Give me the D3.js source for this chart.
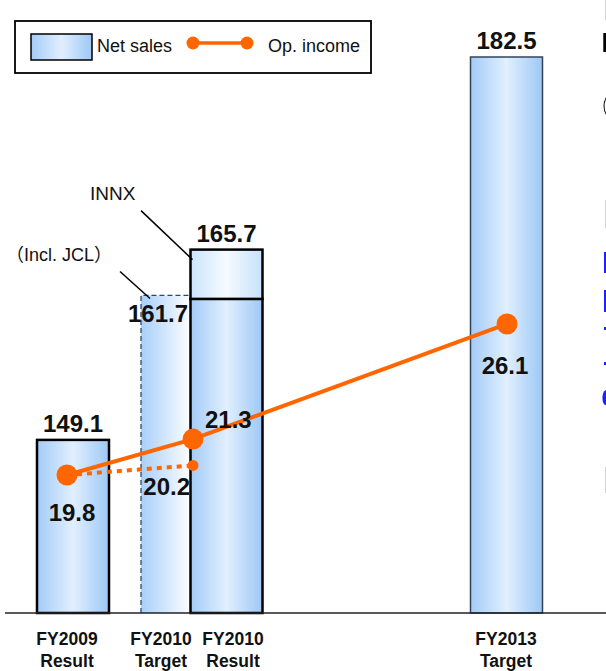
<!DOCTYPE html>
<html>
<head>
<meta charset="utf-8">
<script src="https://cdn.jsdelivr.net/npm/d3@7"></script>
<style>
  html, body { margin: 0; padding: 0; background: #fff; }
  svg { display: block; font-family: "Liberation Sans", Arial, "Noto Sans CJK JP", sans-serif; }
</style>
</head>
<body>
<svg id="chart" width="606" height="671"></svg>
<script>
// ---- data ----
const categories = ["FY2009 Result", "FY2010 Target", "FY2010 Result", "FY2013 Target"];
const categoryLines = [["FY2009", "Result"], ["FY2010", "Target"], ["FY2010", "Result"], ["FY2013", "Target"]];
const netSales = [149.1, 161.7, 165.7, 182.5];          // billion yen
const netSalesExclINNX = [null, null, 161.4, null];     // FY2010 result without INNX
const opIncome = [19.8, 20.2, 21.3, 26.1];              // billion yen
const solidPath = ["FY2009 Result", "FY2010 Result", "FY2013 Target"];
const dottedPath = ["FY2009 Result", "FY2010 Target"];
const legendLabels = ["Net sales", "Op. income"];

// ---- setup ----
const svg = d3.select("#chart");
svg.append("rect").attr("width", 606).attr("height", 671).attr("fill", "#fff");
const defs = svg.append("defs");
function hGrad(id, stops) {
  const g = defs.append("linearGradient").attr("id", id)
    .attr("x1", "0%").attr("x2", "100%").attr("y1", "0%").attr("y2", "0%");
  stops.forEach(([o, c]) => g.append("stop").attr("offset", o).attr("stop-color", c));
}
hGrad("barFill", [[0, "#a3cbf8"], [0.5, "#e1effe"], [1, "#9dc8f6"]]);
hGrad("innxFill", [[0, "#cbe5fc"], [0.5, "#f5faff"], [1, "#c6e2fb"]]);
hGrad("targetFill", [[0, "#a7cffa"], [0.7, "#ffffff"], [1, "#ffffff"]]);

const baseY = 613;
const barW = 72;
const orange = "#ff6600";

// sales axis (not zero-based) and operating income axis
const y = d3.scaleLinear().domain([134, 182.5]).range([baseY, 57]);
const yInc = d3.scaleLinear().domain([15, 30]).range([590.1, 230.5]);
// horizontal slots
const xBar = d3.scaleOrdinal().domain(categories).range([73, 177, 226.5, 506.5]);
const xInc = d3.scaleOrdinal().domain(categories).range([67, 193, 193, 507]);
const xLab = d3.scaleOrdinal().domain(categories).range([67, 161, 233, 506]);

// ---- bars ----
const bars = svg.append("g");
const order = [1, 0, 2, 3]; // target-with-JCL bar sits behind the result bar
order.forEach(i => {
  const c = categories[i];
  const x0 = xBar(c) - barW / 2;
  const top = y(netSales[i]);
  if (i === 1) {
    bars.append("rect").attr("x", x0).attr("y", top).attr("width", barW)
      .attr("height", baseY - top).attr("fill", "url(#targetFill)");
    bars.append("path")
      .attr("d", `M${x0},${baseY} V${top} H${x0 + barW}`)
      .attr("fill", "none").attr("stroke", "#2b4a70").attr("stroke-width", 1.3)
      .attr("stroke-dasharray", "5,3");
  } else if (netSalesExclINNX[i] != null) {
    const mid = y(netSalesExclINNX[i]);
    bars.append("rect").attr("x", x0).attr("y", mid).attr("width", barW)
      .attr("height", baseY - mid).attr("fill", "url(#barFill)")
      .attr("stroke", "#000").attr("stroke-width", 2.5);
    bars.append("rect").attr("x", x0).attr("y", top).attr("width", barW)
      .attr("height", mid - top).attr("fill", "url(#innxFill)")
      .attr("stroke", "#000").attr("stroke-width", 2.5);
  } else {
    const thin = i === 3;
    bars.append("rect").attr("x", x0).attr("y", top).attr("width", barW)
      .attr("height", baseY - top).attr("fill", "url(#barFill)")
      .attr("stroke", thin ? "#34435a" : "#000").attr("stroke-width", thin ? 1.5 : 2.5);
  }
});

// baseline
svg.append("line").attr("x1", 5).attr("x2", 606).attr("y1", baseY).attr("y2", baseY)
  .attr("stroke", "#222").attr("stroke-width", 1.5);

// ---- annotations ----
{
  const c = categories[2];
  const x0 = xBar(c) - barW / 2;
  const top = y(netSales[2]);
  svg.append("text").attr("x", 90).attr("y", top - 50).attr("font-size", 19)
    .attr("fill", "#111").text("INNX");
  svg.append("line").attr("x1", 141).attr("y1", top - 39).attr("x2", x0 + 2).attr("y2", top + 10)
    .attr("stroke", "#000").attr("stroke-width", 1.5);
}
{
  const c = categories[1];
  const x0 = xBar(c) - barW / 2;
  const top = y(netSales[1]);
  const t = svg.append("text").attr("x", 6).attr("y", top - 34).attr("font-size", 18).attr("fill", "#111");
  t.append("tspan").attr("font-family", "'Noto Sans CJK JP'").text("（");
  t.append("tspan").text("Incl. JCL");
  t.append("tspan").attr("font-family", "'Noto Sans CJK JP'").text("）");
  svg.append("line").attr("x1", 120).attr("y1", top - 24).attr("x2", x0 + 9).attr("y2", top + 3)
    .attr("stroke", "#000").attr("stroke-width", 1.5);
}

// ---- operating income line ----
const lineGen = d3.line().x(c => xInc(c)).y(c => yInc(opIncome[categories.indexOf(c)]));
svg.append("path").attr("d", lineGen(dottedPath)).attr("fill", "none")
  .attr("stroke", orange).attr("stroke-width", 4).attr("stroke-dasharray", "5,5");
svg.append("path").attr("d", lineGen(solidPath)).attr("fill", "none")
  .attr("stroke", orange).attr("stroke-width", 4);
categories.forEach((c, i) => {
  svg.append("circle").attr("cx", xInc(c)).attr("cy", yInc(opIncome[i]))
    .attr("r", i === 1 ? 5.5 : 10.5).attr("fill", orange);
});

// ---- value labels ----
const lbl = svg.append("g").attr("font-weight", "bold").attr("font-size", 24).attr("fill", "#111");
categories.forEach((c, i) => {
  const top = y(netSales[i]);
  if (i === 1) {
    lbl.append("text").attr("x", xBar(c) + barW / 2 - 25).attr("y", top + 27)
      .attr("text-anchor", "end").text(netSales[i].toFixed(1));
  } else {
    lbl.append("text").attr("x", xBar(c)).attr("y", top - 8)
      .attr("text-anchor", "middle").text(netSales[i].toFixed(1));
  }
});
// income labels
[
  { i: 0, dx: 5, dy: 46, a: "middle" },
  { i: 1, dx: -3, dy: 30, a: "end" },
  { i: 2, dx: 12, dy: -11, a: "start" },
  { i: 3, dx: -2, dy: 50, a: "middle" }
].forEach(o => {
  const c = categories[o.i];
  lbl.append("text").attr("x", xInc(c) + o.dx).attr("y", yInc(opIncome[o.i]) + o.dy)
    .attr("text-anchor", o.a).text(opIncome[o.i].toFixed(1));
});

// ---- category labels ----
const cat = svg.append("g").attr("font-weight", "bold").attr("font-size", 17.5)
  .attr("fill", "#111").attr("text-anchor", "middle");
categories.forEach((c, i) => {
  categoryLines[i].forEach((s, k) => {
    cat.append("text").attr("x", xLab(c)).attr("y", 645 + k * 21.5).text(s);
  });
});

// ---- legend ----
const lg = svg.append("g");
lg.append("rect").attr("x", 15).attr("y", 21).attr("width", 356).attr("height", 52)
  .attr("fill", "#fff").attr("stroke", "#000").attr("stroke-width", 1.8);
lg.append("rect").attr("x", 31).attr("y", 34).attr("width", 61).attr("height", 26)
  .attr("fill", "url(#barFill)").attr("stroke", "#000").attr("stroke-width", 1.5);
lg.append("text").attr("x", 97).attr("y", 52).attr("font-size", 18).attr("fill", "#111").text(legendLabels[0]);
lg.append("line").attr("x1", 193).attr("x2", 247).attr("y1", 43).attr("y2", 43)
  .attr("stroke", orange).attr("stroke-width", 3.5);
[193, 247].forEach(cx => lg.append("circle").attr("cx", cx).attr("cy", 43).attr("r", 6.5).attr("fill", orange));
lg.append("text").attr("x", 268).attr("y", 52).attr("font-size", 18).attr("fill", "#111").text(legendLabels[1]);

// ---- sliver of the neighbouring panel at the right edge ----
const side = svg.append("g");
[[0, 20], [200, 228], [467, 493]].forEach(([a, b]) => {
  side.append("line").attr("x1", 605.5).attr("x2", 605.5).attr("y1", a).attr("y2", b)
    .attr("stroke", "#d4d4d4").attr("stroke-width", 1);
});
side.append("rect").attr("x", 603.3).attr("y", 33).attr("width", 3).attr("height", 19).attr("fill", "#000");
side.append("path").attr("d", "M606,97 Q601,106 606,115 L606,113 Q603,106 606,99 Z").attr("fill", "#000");
[[252, 21], [290, 22], [327, 3], [362, 3]].forEach(([a, h]) => {
  side.append("rect").attr("x", 604).attr("y", a).attr("width", 2).attr("height", h).attr("fill", "#1f1fff");
});
side.append("path").attr("d", "M606,390 Q602,392 602.5,399 Q603,405 606,405 Z").attr("fill", "#1f1fff");
</script>
</body>
</html>
